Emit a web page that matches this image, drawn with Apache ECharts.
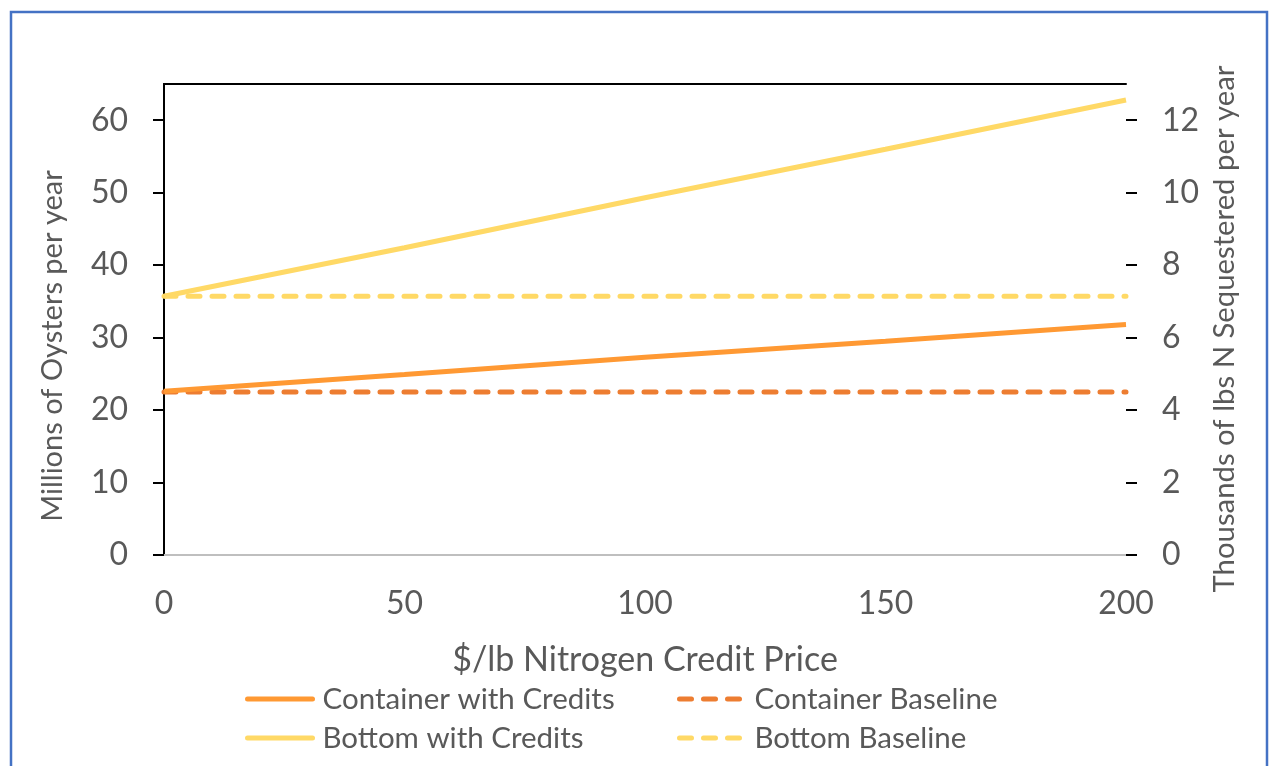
<!DOCTYPE html>
<html>
<head>
<meta charset="utf-8">
<script src="https://cdn.jsdelivr.net/npm/echarts@6/dist/echarts.min.js"></script>
<style>
  html, body { margin: 0; padding: 0; background: #ffffff; }
  #chart { width: 1269px; height: 766px; }
</style>
</head>
<body>
<div id="chart"></div>
<script>
// Nitrogen credit price ($/lb) on the x axis
const creditPrice = [0, 50, 100, 150, 200];
// Millions of oysters per year
const containerWithCredits = [22.6, 24.9, 27.3, 29.5, 31.8];
const containerBaseline = [22.5, 22.5, 22.5, 22.5, 22.5];
const bottomWithCredits = [35.7, 42.4, 49.3, 56.0, 62.8];
const bottomBaseline = [35.7, 35.7, 35.7, 35.7, 35.7];
// Axis ranges: the plot runs to 65 (left) / 13 (right); labelled ticks stop at 60 / 12
const oysterMax = 65, oysterTickMax = 60, oysterStep = 10;
const nitrogenMax = 13, nitrogenTickMax = 12, nitrogenStep = 2;

const FONT = 'Lato, "Open Sans", sans-serif';
const TEXT = '#595959';
const pairs = arr => creditPrice.map((x, i) => [x, arr[i]]);

// Plot box
const PLOT = { left: 164, right: 143, top: 84, bottom: 211 };
const plotHeight = 766 - PLOT.top - PLOT.bottom;
// The tick grid shares the plot box but tops out at the last labelled tick
const tickTop = PLOT.top + plotHeight * (oysterMax - oysterTickMax) / oysterMax;

const chart = echarts.init(document.getElementById('chart'), null, { renderer: 'canvas' });

function lineSeries(name, data, color, dashed) {
  return {
    name: name,
    type: 'line',
    xAxisIndex: 0,
    yAxisIndex: 0,
    data: pairs(data),
    symbol: 'none',
    silent: true,
    animation: false,
    lineStyle: {
      color: color,
      width: 5,
      type: dashed ? [12, 12] : 'solid',
      cap: dashed ? 'round' : 'butt'
    },
    itemStyle: { color: color },
    z: dashed ? 3 : 4
  };
}

const legendCommon = {
  orient: 'vertical',
  padding: 0,
  itemWidth: 65,
  itemHeight: 14,
  itemGap: 9,
  selectedMode: false,
  lineStyle: { width: 5, cap: 'round' },
  itemStyle: { opacity: 0 },
  textStyle: { fontFamily: FONT, fontSize: 29.5, color: TEXT, lineHeight: 30, padding: [0, 0, 0, 5] }
};

const tickLabel = { fontFamily: FONT, fontSize: 32, color: TEXT };

chart.setOption({
  backgroundColor: '#ffffff',
  animation: false,
  grid: [
    { left: PLOT.left, right: PLOT.right, top: PLOT.top, bottom: PLOT.bottom },
    { left: PLOT.left, right: PLOT.right, top: tickTop, bottom: PLOT.bottom }
  ],
  xAxis: [
    {
      gridIndex: 0,
      type: 'value',
      position: 'bottom',
      min: 0, max: 200, interval: 50,
      name: '$/lb Nitrogen Credit Price',
      nameLocation: 'middle',
      nameGap: 88,
      nameTextStyle: { fontFamily: FONT, fontSize: 34, color: TEXT },
      axisLine: { show: true, lineStyle: { color: '#BFBFBF', width: 2 } },
      axisTick: { show: false },
      splitLine: { show: false },
      axisLabel: Object.assign({ margin: 33 }, tickLabel)
    },
    {
      gridIndex: 0,
      type: 'value',
      position: 'top',
      min: 0, max: 200,
      axisLine: { show: true, onZero: false, lineStyle: { color: '#000000', width: 2 } },
      axisTick: { show: false },
      axisLabel: { show: false },
      splitLine: { show: false }
    },
    {
      gridIndex: 1,
      type: 'value',
      show: false,
      min: 0, max: 200
    }
  ],
  yAxis: [
    {
      gridIndex: 0,
      type: 'value',
      position: 'left',
      min: 0, max: oysterMax,
      axisLine: { show: true, lineStyle: { color: '#000000', width: 2 } },
      axisTick: { show: false },
      axisLabel: { show: false },
      splitLine: { show: false }
    },
    {
      gridIndex: 0,
      type: 'value',
      position: 'right',
      min: 0, max: nitrogenMax,
      axisLine: { show: true, lineStyle: { color: '#000000', width: 2 } },
      axisTick: { show: false },
      axisLabel: { show: false },
      splitLine: { show: false }
    },
    {
      gridIndex: 1,
      type: 'value',
      position: 'left',
      min: 0, max: oysterTickMax, interval: oysterStep,
      axisLine: { show: false },
      axisTick: { show: true, inside: false, length: 11, lineStyle: { color: '#000000', width: 2 } },
      axisLabel: Object.assign({ margin: 36 }, tickLabel),
      splitLine: { show: false }
    },
    {
      gridIndex: 1,
      type: 'value',
      position: 'right',
      min: 0, max: nitrogenTickMax, interval: nitrogenStep,
      axisLine: { show: false },
      axisTick: { show: true, inside: false, length: 11, lineStyle: { color: '#000000', width: 2 } },
      axisLabel: Object.assign({ margin: 36 }, tickLabel),
      splitLine: { show: false }
    }
  ],
  legend: [
    Object.assign({}, legendCommon, { left: 245, top: 684, data: ['Container with Credits', 'Bottom with Credits'] }),
    Object.assign({}, legendCommon, { left: 677, top: 684, data: ['Container Baseline', 'Bottom Baseline'] })
  ],
  series: [
    lineSeries('Container with Credits', containerWithCredits, '#FF9933', false),
    lineSeries('Container Baseline', containerBaseline, '#ED7D31', true),
    lineSeries('Bottom with Credits', bottomWithCredits, '#FFD966', false),
    lineSeries('Bottom Baseline', bottomBaseline, '#FFD966', true)
  ],
  graphic: [
    {
      type: 'rect',
      silent: true,
      shape: { x: 11, y: 12, width: 1256, height: 800 },
      style: { fill: 'none', stroke: '#4472C4', lineWidth: 2.5 },
      z: 100
    },
    {
      type: 'text',
      silent: true,
      x: 53, y: 346,
      rotation: Math.PI / 2,
      style: {
        text: 'Millions of Oysters per year',
        font: '29px ' + FONT,
        fill: TEXT,
        align: 'center',
        verticalAlign: 'middle'
      }
    },
    {
      type: 'text',
      silent: true,
      x: 1225, y: 329,
      rotation: Math.PI / 2,
      style: {
        text: 'Thousands of lbs N Sequestered per year',
        font: '29.3px ' + FONT,
        fill: TEXT,
        align: 'center',
        verticalAlign: 'middle'
      }
    }
  ]
});
</script>
</body>
</html>
